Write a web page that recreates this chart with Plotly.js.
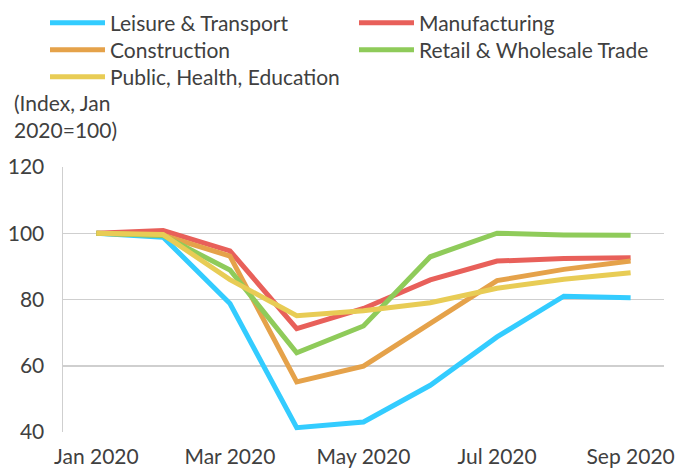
<!DOCTYPE html>
<html><head><meta charset="utf-8">
<script src="https://cdn.plot.ly/plotly-3.0.1.min.js"></script>
<style>body{margin:0;padding:0;background:#fff}#c{width:676px;height:468px}</style>
</head><body><div id="c"></div>
<script>
const months = ["Jan 2020","Feb 2020","Mar 2020","Apr 2020","May 2020","Jun 2020","Jul 2020","Aug 2020","Sep 2020"];
const tickLabels = ["Jan 2020","Mar 2020","May 2020","Jul 2020","Sep 2020"];
const leisure = [100, 98.8, 78.8, 41.3, 43.0, 54.1, 68.7, 81.0, 80.5];
const manufacturing = [100, 100.8, 94.7, 71.2, 77.3, 85.9, 91.6, 92.4, 92.6];
const construction = [100, 99.4, 93.1, 55.1, 59.9, 72.8, 85.7, 89.1, 91.6];
const retail = [100, 99.3, 88.9, 63.9, 72.0, 92.9, 100.0, 99.5, 99.4];
const publicHealth = [100, 99.6, 86.0, 75.1, 76.6, 79.0, 83.4, 86.1, 88.1];
const names = ["Leisure & Transport","Manufacturing","Construction","Retail & Wholesale Trade","Public, Health, Education"];
const colors = ["#33ccff","#e8605a","#e5a24a","#8fcb5a","#e8cc55"];
const series = [leisure, manufacturing, construction, retail, publicHealth];
// legend slot for each series: [column x (px), row centre y (px)]
const legendIds = ["legend","legend2","legend3","legend4","legend5"];
const legendX = [45, 354, 45, 354, 45];
const legendY = [23, 23, 50, 50, 77];

const traces = series.map((s,i)=>({
  x: months, y: s, name: names[i], type: 'scatter', mode: 'lines',
  line: {color: colors[i], width: 5}, legend: legendIds[i]
}));
const fam = 'Lato, "Open Sans", sans-serif';
const font = {family: fam, size: 21, color: '#404040'};
const layout = {
  width: 676, height: 468,
  margin: {l: 63, r: 12, t: 167, b: 36, autoexpand: false},
  paper_bgcolor: '#fff', plot_bgcolor: '#fff',
  font: font,
  showlegend: true,
  xaxis: {type: 'category', tickvals: tickLabels, ticktext: tickLabels, showgrid: false,
          showline: false, zeroline: false, ticks: '', range: [-0.5, 8.5], tickfont: font,
          ticklabelstandoff: 10},
  yaxis: {range: [40, 120], dtick: 20, showgrid: true, gridcolor: '#cfcfcf', gridwidth: 1.5,
          showline: true, linecolor: '#cfcfcf', linewidth: 1.5, zeroline: false, ticks: '',
          ticklabelstandoff: 13, tickfont: font},
  annotations: [{text: '(Index, Jan<br>2020=100)', xref: 'paper', yref: 'paper', x: -51/601, y: 1 + 23/265,
                 xanchor: 'left', yanchor: 'bottom', align: 'left', showarrow: false,
                 font: {family: fam, size: 21, color: '#404040'}}]
};
legendIds.forEach((id,i)=>{
  layout[id] = {orientation: 'v', xref: 'container', yref: 'container',
                x: legendX[i]/676, y: 1 - legendY[i]/468, yanchor: 'middle', xanchor: 'left',
                itemwidth: 55, tracegroupgap: 0, bgcolor: 'rgba(0,0,0,0)',
                font: {family: fam, size: 21, color: '#404040'}};
});
Plotly.newPlot('c', traces, layout, {displayModeBar: false, staticPlot: true});
</script></body></html>
